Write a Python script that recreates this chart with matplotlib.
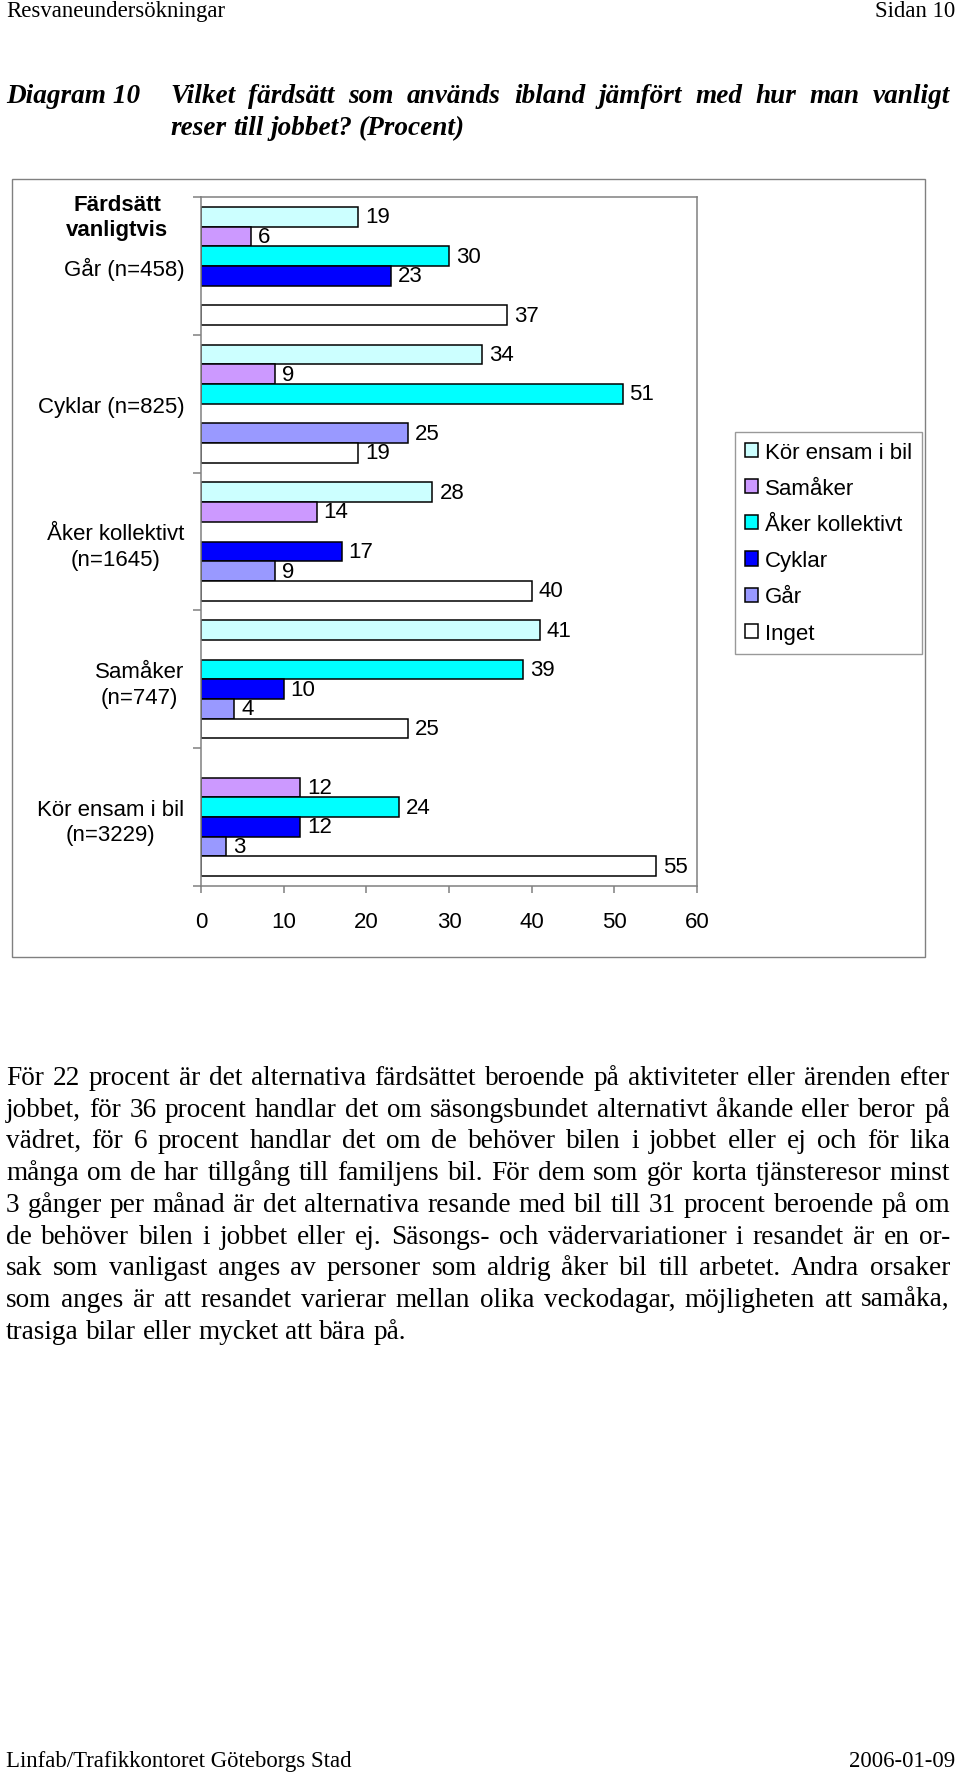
import numpy as np
import matplotlib.pyplot as plt
from matplotlib.patches import Rectangle

plt.rcParams['font.family'] = ['Liberation Sans', 'DejaVu Sans']

# data
groups = ["Går (n=458)", "Cyklar (n=825)", "Åker kollektivt\n(n=1645)",
          "Samåker\n(n=747)", "Kör ensam i bil\n(n=3229)"]
series = ["Kör ensam i bil", "Samåker", "Åker kollektivt", "Cyklar", "Går", "Inget"]
colors = ["#CCFFFF", "#CC99FF", "#00FFFF", "#0000FF", "#9999FF", "#FFFFFF"]

nan = np.nan
kor_ensam = [19, 34, 28, 41, nan]
samaker = [6, 9, 14, nan, 12]
kollektivt = [30, 51, nan, 39, 24]
cyklar = [23, nan, 17, 10, 12]
gar = [nan, 25, 9, 4, 3]
inget = [37, 19, 40, 25, 55]
values = [kor_ensam, samaker, kollektivt, cyklar, gar, inget]

xticks = [0, 10, 20, 30, 40, 50, 60]

header_left = "Resvaneundersökningar"
header_right = "Sidan 10"
title_label = "Diagram 10"
title_lines = ["Vilket färdsätt som används ibland jämfört med hur man vanligt",
               "reser till jobbet? (Procent)"]
body_lines = [
    "För 22 procent är det alternativa färdsättet beroende på aktiviteter eller ärenden efter",
    "jobbet, för 36 procent handlar det om säsongsbundet alternativt åkande eller beror på",
    "vädret, för 6 procent handlar det om de behöver bilen i jobbet eller ej och för lika",
    "många om de har tillgång till familjens bil. För dem som gör korta tjänsteresor minst",
    "3 gånger per månad är det alternativa resande med bil till 31 procent beroende på om",
    "de behöver bilen i jobbet eller ej. Säsongs- och vädervariationer i resandet är en or-",
    "sak som vanligast anges av personer som aldrig åker bil till arbetet. Andra orsaker",
    "som anges är att resandet varierar mellan olika veckodagar, möjligheten att samåka,",
    "trasiga bilar eller mycket att bära på.",
]
footer_left = "Linfab/Trafikkontoret Göteborgs Stad"
footer_right = "2006-01-09"

W, H = 960, 1774
fs = 16  # chart text size
fig = plt.figure(figsize=(W / 100, H / 100), dpi=100)
renderer = fig.canvas.get_renderer()


def fx(px):
    return px / W


def fy(py):
    return 1 - py / H


serif = dict(family='Liberation Serif')


def justified(line, x0, x1, ybase, justify=True, **kw):
    words = line.split()
    texts = [fig.text(0, fy(ybase), w, va='baseline', **kw) for w in words]
    widths = [t.get_window_extent(renderer).width for t in texts]
    if justify and len(words) > 1:
        gap = (x1 - x0 - sum(widths)) / (len(words) - 1)
    else:
        space = fig.text(0, 0, "a a", **kw)
        one = fig.text(0, 0, "aa", **kw)
        gap = space.get_window_extent(renderer).width - one.get_window_extent(renderer).width
        space.remove()
        one.remove()
    x = x0
    for t, w in zip(texts, widths):
        t.set_x(fx(x))
        x += w + gap


# page header / title
fig.text(fx(6), fy(17), header_left, fontsize=16.4, va='baseline', **serif)
fig.text(fx(955), fy(17), header_right, fontsize=16.4, va='baseline', ha='right', **serif)
tkw = dict(fontsize=19.6, fontweight='bold', fontstyle='italic', **serif)
fig.text(fx(6), fy(103), title_label, va='baseline', **tkw)
justified(title_lines[0], 170, 950, 103, **tkw)
justified(title_lines[1], 170, 950, 135, justify=False, **tkw)

# chart frame
fig.add_artist(Rectangle((fx(12), fy(958)), fx(925) - fx(12), fy(180) - fy(958),
                         transform=fig.transFigure, fill=False, edgecolor='#808080', lw=1))

ax = fig.add_axes([fx(201), fy(887), fx(697) - fx(201), fy(198) - fy(887)])
n = len(series)
h = 1 / (n + 1)
y = np.arange(len(groups))
for j, (name, vals, c) in enumerate(zip(series, values, colors)):
    yy = y + (j - (n - 1) / 2) * h
    vals = np.array(vals, dtype=float)
    ok = ~np.isnan(vals)
    ax.barh(yy[ok], vals[ok], height=h, color=c, edgecolor='black', linewidth=1.1, label=name)
    for b, v in zip(yy[ok], vals[ok]):
        ax.annotate(f"{v:g}", (v, b), xytext=(5, 0), textcoords='offset points',
                    va='center', ha='left', fontsize=fs)

ax.set_xlim(xticks[0], xticks[-1])
ax.set_ylim(len(groups) - 0.5, -0.5)
ax.set_xticks(xticks)
ax.set_yticks(y)
ax.set_yticklabels(groups)
ax.set_yticks(np.arange(-0.5, len(groups)), minor=True)
for lbl in ax.get_yticklabels():
    lbl.set_multialignment('center')
    lbl.set_linespacing(1.3)
ax.tick_params(axis='y', which='major', length=0, pad=12, labelsize=fs)
ax.tick_params(axis='y', which='minor', length=6, color='#808080', width=1.1)
ax.tick_params(axis='x', length=5, pad=13, color='#808080', width=1.1, labelsize=fs)
for s in ax.spines.values():
    s.set_color('#808080')
    s.set_linewidth(1.1)

fig.text(fx(117), fy(218), "Färdsätt\nvanligtvis", ha='center', va='center',
         fontsize=fs, fontweight='bold', linespacing=1.25)

handles, labels = ax.get_legend_handles_labels()
leg = fig.legend(handles, labels, loc='upper left', bbox_to_anchor=(fx(735), fy(433)),
                 frameon=True, fancybox=False, fontsize=fs, handlelength=0.6,
                 handleheight=0.6, handletextpad=0.3, labelspacing=0.68,
                 borderpad=0.45, borderaxespad=0)
leg.get_frame().set_edgecolor('#808080')
leg.get_frame().set_linewidth(1)

# body text
for i, line in enumerate(body_lines):
    justified(line, 6, 950, 1085 + i * 31.7, justify=(i < len(body_lines) - 1),
              fontsize=19.6, **serif)

fig.text(fx(6), fy(1767), footer_left, fontsize=16.4, va='baseline', **serif)
fig.text(fx(955), fy(1767), footer_right, fontsize=16.4, va='baseline', ha='right', **serif)

fig.savefig("out.png", dpi=100)
